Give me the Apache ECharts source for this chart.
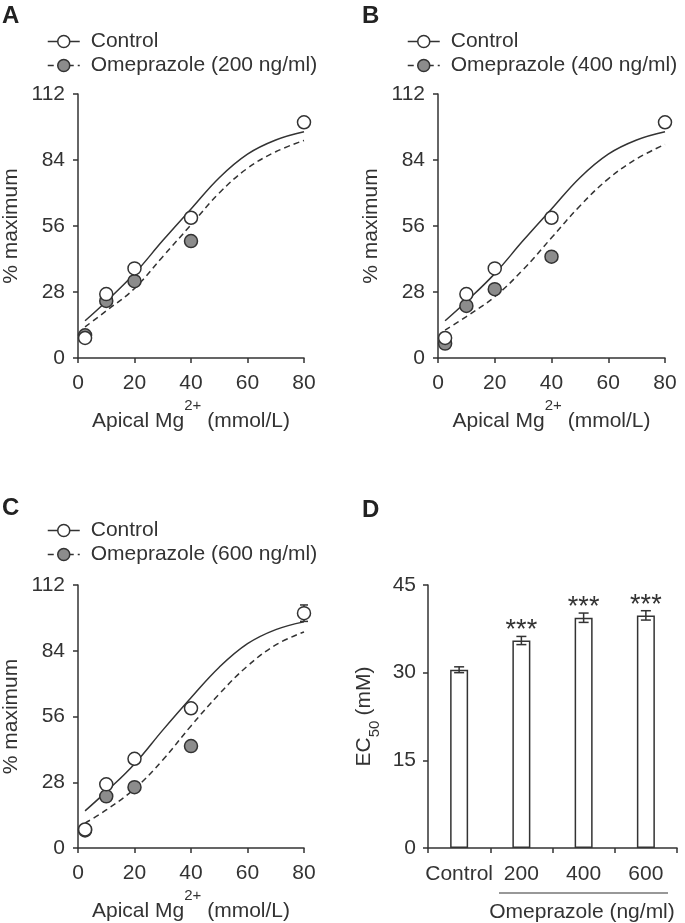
<!DOCTYPE html>
<html><head><meta charset="utf-8">
<script src="https://cdn.jsdelivr.net/npm/echarts@6/dist/echarts.min.js"></script>
<style>html,body{margin:0;padding:0;background:#fff}#c{width:685px;height:923px}</style>
</head><body><div id="c"></div>
<script>
// ---- data ----
const xPoints = [2.5, 10, 20, 40, 80];
const xPointsOme = [2.5, 10, 20, 40];
const ctrlA = [8.5, 27.1, 38, 59.5, 100];
const omeA = [9.6, 24.2, 32.6, 49.6];
const ctrlB = [8.5, 27.1, 38, 59.5, 100];
const omeB = [6.1, 22.1, 29.2, 43];
const ctrlC = [7.9, 27.1, 38, 59.5, 100];
const omeC = [7.5, 22, 25.9, 43.4];
const errC80 = 3.5;

const curveX = [2.5, 10, 20, 30, 40, 50, 60, 70, 80];
const curveCtrlA = [15.8, 24.0, 35.8, 49.8, 63.2, 76.5, 86.5, 92.5, 96.0];
const curveOmeA  = [13.2, 20.0, 29.5, 43.0, 56.5, 70.0, 80.5, 87.5, 92.3];
const curveCtrlB = [15.8, 24.0, 35.8, 49.8, 63.2, 76.5, 86.5, 92.5, 96.0];
const curveOmeB  = [11.8, 17.6, 26.0, 37.5, 51.0, 64.5, 76.0, 84.5, 90.6];
const curveCtrlC = [15.8, 24.0, 35.8, 50.2, 64.0, 77.0, 87.0, 93.0, 96.3];
const curveOmeC  = [10.6, 16.2, 25.2, 37.5, 52.0, 65.6, 77.5, 86.5, 92.0];

const pctTicks = [0, 28, 56, 84, 112];
const mgTicks = [0, 20, 40, 60, 80];

const barCats = ['Control', '200', '400', '600'];
const ec50 = [30.5, 35.5, 39.4, 39.8];
const ec50Err = [0.5, 0.7, 0.8, 0.8];
const ec50Sig = ['', '***', '***', '***'];
const ec50Ticks = [0, 15, 30, 45];

const legendNames = ['Control', 'Omeprazole (200 ng/ml)', 'Omeprazole (400 ng/ml)', 'Omeprazole (600 ng/ml)'];

// ---- styling ----
const FONT = 'Liberation Sans';
const INK = '#333';
const GREY = '#8c8c8c';

function zip(xs, ys) { return ys.map((y, i) => [xs[i], y]); }

function valAxis(gi, ticks, extra) {
  return Object.assign({
    type: 'value', gridIndex: gi,
    min: ticks[0], max: ticks[ticks.length - 1], interval: ticks[1] - ticks[0],
    axisLine: { show: true, onZero: false, lineStyle: { color: INK, width: 1.5 } },
    axisTick: { show: true, length: 5, lineStyle: { color: INK, width: 1.5 } },
    axisLabel: { color: INK, fontSize: 21, fontFamily: FONT, margin: 12 },
    splitLine: { show: false }
  }, extra || {});
}

const xName = '{t|Apical Mg}{s|2+}{t| (mmol/L)}';
const xNameStyle = {
  rich: {
    t: { fontSize: 21, fontFamily: FONT, color: INK, lineHeight: 24, verticalAlign: 'bottom' },
    s: { fontSize: 15, fontFamily: FONT, color: INK, lineHeight: 34, verticalAlign: 'top' }
  }
};

const grids = [
  { left: 78, top: 94, width: 226, height: 264 },
  { left: 438, top: 94, width: 227, height: 264 },
  { left: 78, top: 585, width: 226, height: 263 },
  { left: 428, top: 585, width: 249, height: 263 }
];

const xAxes = [0, 1, 2].map(g => valAxis(g, mgTicks, {
  name: xName, nameLocation: 'middle', nameGap: 40, nameTextStyle: xNameStyle,
  axisLabel: { color: INK, fontSize: 21, fontFamily: FONT, margin: 15 }
}));
xAxes.push({
  type: 'category', gridIndex: 3, data: barCats,
  axisLine: { show: true, lineStyle: { color: INK, width: 1.5 } },
  axisTick: { show: true, length: 5, alignWithLabel: false, lineStyle: { color: INK, width: 1.5 } },
  axisLabel: { color: INK, fontSize: 21, fontFamily: FONT, margin: 16, interval: 0 }
});

const yAxes = [0, 1, 2].map(g => valAxis(g, pctTicks, {
  name: '% maximum', nameLocation: 'middle', nameGap: 56,
  nameTextStyle: { fontSize: 21, fontFamily: FONT, color: INK },
  axisLabel: { color: INK, fontSize: 21, fontFamily: FONT, margin: 13 }
}));
yAxes.push(valAxis(3, ec50Ticks, {
  name: '{t|EC}{s|50}{t|(mM)}', nameLocation: 'middle', nameGap: 46,
  nameTextStyle: {
    rich: {
      t: { fontSize: 21, fontFamily: FONT, color: INK, lineHeight: 28, verticalAlign: 'top' },
      s: { fontSize: 15, fontFamily: FONT, color: INK, lineHeight: 28, verticalAlign: 'bottom', padding: [0, 5, 0, 0] }
    }
  },
  axisLabel: { color: INK, fontSize: 21, fontFamily: FONT, margin: 12 }
}));

function curveSeries(name, gi, ys, dashed, fill) {
  return {
    type: 'line', name: name, xAxisIndex: gi, yAxisIndex: gi,
    data: zip(curveX, ys), smooth: 0.4, showSymbol: false,
    symbol: 'circle', symbolSize: 12,
    itemStyle: { color: fill, borderColor: INK, borderWidth: 1.5 },
    lineStyle: { color: INK, width: 1.5, type: dashed ? [6, 4] : 'solid' },
    emphasis: { disabled: true }, silent: true, z: 2
  };
}
function pointSeries(name, gi, xs, ys, fill, z) {
  return {
    type: 'scatter', name: name, xAxisIndex: gi, yAxisIndex: gi,
    data: zip(xs, ys), symbol: 'circle', symbolSize: 13,
    itemStyle: { color: fill, borderColor: INK, borderWidth: 1.5, opacity: 1 },
    emphasis: { disabled: true }, silent: true, z: z
  };
}

function errorBar(hw) {
  return function (params, api) {
    const x = api.value(0), v = api.value(1), e = api.value(2);
    const t = api.coord([x, v + e]);
    const b = api.coord([x, v - e]);
    const st = { stroke: INK, lineWidth: 1.5 };
    const ch = [
      { type: 'line', shape: { x1: t[0], y1: t[1], x2: b[0], y2: b[1] }, style: st },
      { type: 'line', shape: { x1: t[0] - hw, y1: t[1], x2: t[0] + hw, y2: t[1] }, style: st },
      { type: 'line', shape: { x1: b[0] - hw, y1: b[1], x2: b[0] + hw, y2: b[1] }, style: st }
    ];
    const s = params.seriesName === 'ec50err' ? ec50Sig[params.dataIndex] : '';
    if (s) {
      ch.push({ type: 'text', x: t[0], y: t[1] + 8,
        style: { text: s, align: 'center', verticalAlign: 'bottom', fontSize: 27, fontFamily: FONT, fill: INK } });
    }
    return { type: 'group', children: ch };
  };
}

const series = [
  curveSeries('Control', 0, curveCtrlA, false, '#fff'),
  curveSeries(legendNames[1], 0, curveOmeA, true, GREY),
  pointSeries('pA2', 0, xPointsOme, omeA, GREY, 3),
  pointSeries('pA1', 0, xPoints, ctrlA, '#fff', 4),

  curveSeries('Control ', 1, curveCtrlB, false, '#fff'),
  curveSeries(legendNames[2], 1, curveOmeB, true, GREY),
  pointSeries('pB2', 1, xPointsOme, omeB, GREY, 3),
  pointSeries('pB1', 1, xPoints, ctrlB, '#fff', 4),

  curveSeries('Control  ', 2, curveCtrlC, false, '#fff'),
  curveSeries(legendNames[3], 2, curveOmeC, true, GREY),
  {
    type: 'custom', name: 'errC', xAxisIndex: 2, yAxisIndex: 2,
    data: [[xPoints[4], ctrlC[4], errC80]], renderItem: errorBar(4), z: 2, silent: true
  },
  pointSeries('pC2', 2, xPointsOme, omeC, GREY, 3),
  pointSeries('pC1', 2, xPoints, ctrlC, '#fff', 4),

  {
    type: 'bar', name: 'ec50', xAxisIndex: 3, yAxisIndex: 3, data: ec50, barWidth: 18,
    itemStyle: { color: '#fff', borderColor: INK, borderWidth: 1.5 }, silent: true, z: 2
  },
  {
    type: 'custom', name: 'ec50err', xAxisIndex: 3, yAxisIndex: 3,
    data: ec50.map((v, i) => [i, v, ec50Err[i]]), renderItem: errorBar(5), z: 3, silent: true
  }
];

function legendCfg(names, left, top) {
  return {
    data: names, left: left, top: top, orient: 'vertical',
    itemWidth: 32, itemHeight: 15, itemGap: 3,
    selectedMode: false,
    formatter: n => n.trim(),
    textStyle: { fontSize: 21, fontFamily: FONT, color: INK, padding: [0, 0, 0, 6] },
    itemStyle: { borderWidth: 1.5 },
    lineStyle: { width: 1.5 }
  };
}

const panelLetter = (t, l, tp) => ({
  type: 'text', left: l, top: tp,
  style: { text: t, fontSize: 24, fontWeight: 'bold', fontFamily: FONT, fill: '#222' }
});

const option = {
  backgroundColor: '#fff',
  animation: false,
  grid: grids,
  xAxis: xAxes,
  yAxis: yAxes,
  legend: [
    legendCfg(['Control', legendNames[1]], 42, 26),
    legendCfg(['Control ', legendNames[2]], 402, 26),
    legendCfg(['Control  ', legendNames[3]], 42, 515)
  ],
  series: series,
  graphic: [
    panelLetter('A', 2, 4),
    panelLetter('B', 362, 4),
    panelLetter('C', 2, 496),
    panelLetter('D', 362, 498),
    { type: 'line', shape: { x1: 499, y1: 893, x2: 668, y2: 893 }, style: { stroke: INK, lineWidth: 1.2 } },
    { type: 'text', x: 582, y: 912,
      style: { text: 'Omeprazole (ng/ml)', align: 'center', verticalAlign: 'middle', fontSize: 21, fontFamily: FONT, fill: INK } }
  ]
};

const chart = echarts.init(document.getElementById('c'), null, { renderer: 'canvas' });
chart.setOption(option);
</script>
</body></html>
